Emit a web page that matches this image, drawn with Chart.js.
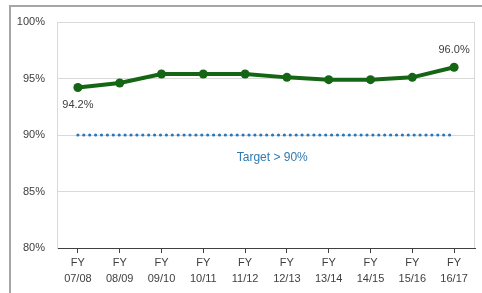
<!DOCTYPE html>
<html><head><meta charset="utf-8">
<script src="https://cdn.jsdelivr.net/npm/chart.js@4.4.1/dist/chart.umd.min.js"></script>
<style>html,body{margin:0;padding:0;background:#fff;}#wrap{position:relative;width:482px;height:293px;}</style>
</head><body><div id="wrap"><canvas id="c" width="482" height="293"></canvas></div>
<script>
const categories = [["FY","07/08"],["FY","08/09"],["FY","09/10"],["FY","10/11"],["FY","11/12"],["FY","12/13"],["FY","13/14"],["FY","14/15"],["FY","15/16"],["FY","16/17"]];
const performance = [94.2, 94.6, 95.4, 95.4, 95.4, 95.1, 94.9, 94.9, 95.1, 96.0];
const target = [90, 90, 90, 90, 90, 90, 90, 90, 90, 90];
const yTicks = [80, 85, 90, 95, 100];
const targetLabel = "Target > 90%";
const labelledPoints = [0, 9];

const FONT = "'Liberation Sans', Arial, sans-serif";
const deco = {
  id: 'deco',
  beforeDatasetsDraw(chart) {
    const {ctx, chartArea: a} = chart;
    ctx.save();
    ctx.strokeStyle = '#d9d9d9';
    ctx.lineWidth = 1;
    ctx.beginPath();
    ctx.moveTo(a.left + 0.5, a.bottom);
    ctx.lineTo(a.left + 0.5, a.top + 0.5);
    ctx.lineTo(a.right - 0.5, a.top + 0.5);
    ctx.lineTo(a.right - 0.5, a.bottom);
    ctx.stroke();
    ctx.restore();
  },
  afterDraw(chart) {
    const {ctx} = chart;
    const x = chart.scales.x, y = chart.scales.y;
    ctx.save();
    // outer frame
    ctx.fillStyle = '#a6a6a6';
    ctx.fillRect(9, 5, 2, 288);
    ctx.fillRect(9, 5, 473, 2);
    // data labels
    ctx.font = "11px " + FONT;
    ctx.fillStyle = '#404040';
    ctx.textAlign = 'center';
    ctx.textBaseline = 'middle';
    labelledPoints.forEach(i => {
      const px = x.getPixelForValue(i);
      const py = y.getPixelForValue(performance[i]);
      const below = i === 0;
      ctx.fillText(performance[i].toFixed(1) + '%', px, below ? py + 17 : py - 17);
    });
    // target label
    ctx.font = "12px " + FONT;
    ctx.fillStyle = '#2F7AAE';
    ctx.fillText(targetLabel, x.getPixelForValue(4.65), y.getPixelForValue(target[0] - 2));
    ctx.restore();
  }
};

new Chart(document.getElementById('c'), {
  type: 'line',
  data: {
    labels: categories,
    datasets: [
      {
        data: performance,
        borderColor: '#146614',
        backgroundColor: '#146614',
        borderWidth: 4,
        pointRadius: 4.5,
        pointHoverRadius: 4.5,
        pointBorderWidth: 0,
        tension: 0,
        order: 1
      },
      {
        data: target,
        borderColor: '#2E75B6',
        borderWidth: 3.2,
        borderDash: [0, 5.9],
        borderCapStyle: 'round',
        pointRadius: 0,
        fill: false,
        tension: 0,
        order: 2
      }
    ]
  },
  options: {
    responsive: false,
    animation: false,
    devicePixelRatio: 1,
    layout: {padding: {left: 0, top: 22, right: 7, bottom: 0}},
    plugins: {legend: {display: false}, tooltip: {enabled: false}},
    scales: {
      x: {
        type: 'category',
        offset: true,
        grid: {offset: false, drawOnChartArea: false, drawTicks: true, tickLength: 5, tickColor: '#404040'},
        border: {display: true, color: '#404040', width: 1},
        ticks: {color: '#404040', font: {family: FONT, size: 11, lineHeight: 16/11}, padding: 2, maxRotation: 0, autoSkip: false},
        afterFit(s) { s.height = 45; }
      },
      y: {
        min: 80, max: 100,
        afterBuildTicks(s) { s.ticks = yTicks.map(v => ({value: v})); },
        grid: {color: '#d9d9d9', drawTicks: false, lineWidth: 1},
        border: {display: true, color: '#d9d9d9'},
        ticks: {color: '#404040', font: {family: FONT, size: 11}, padding: 12, callback: v => v + '%'},
        afterFit(s) { s.width = 57; }
      }
    }
  },
  plugins: [deco]
});
</script></body></html>
